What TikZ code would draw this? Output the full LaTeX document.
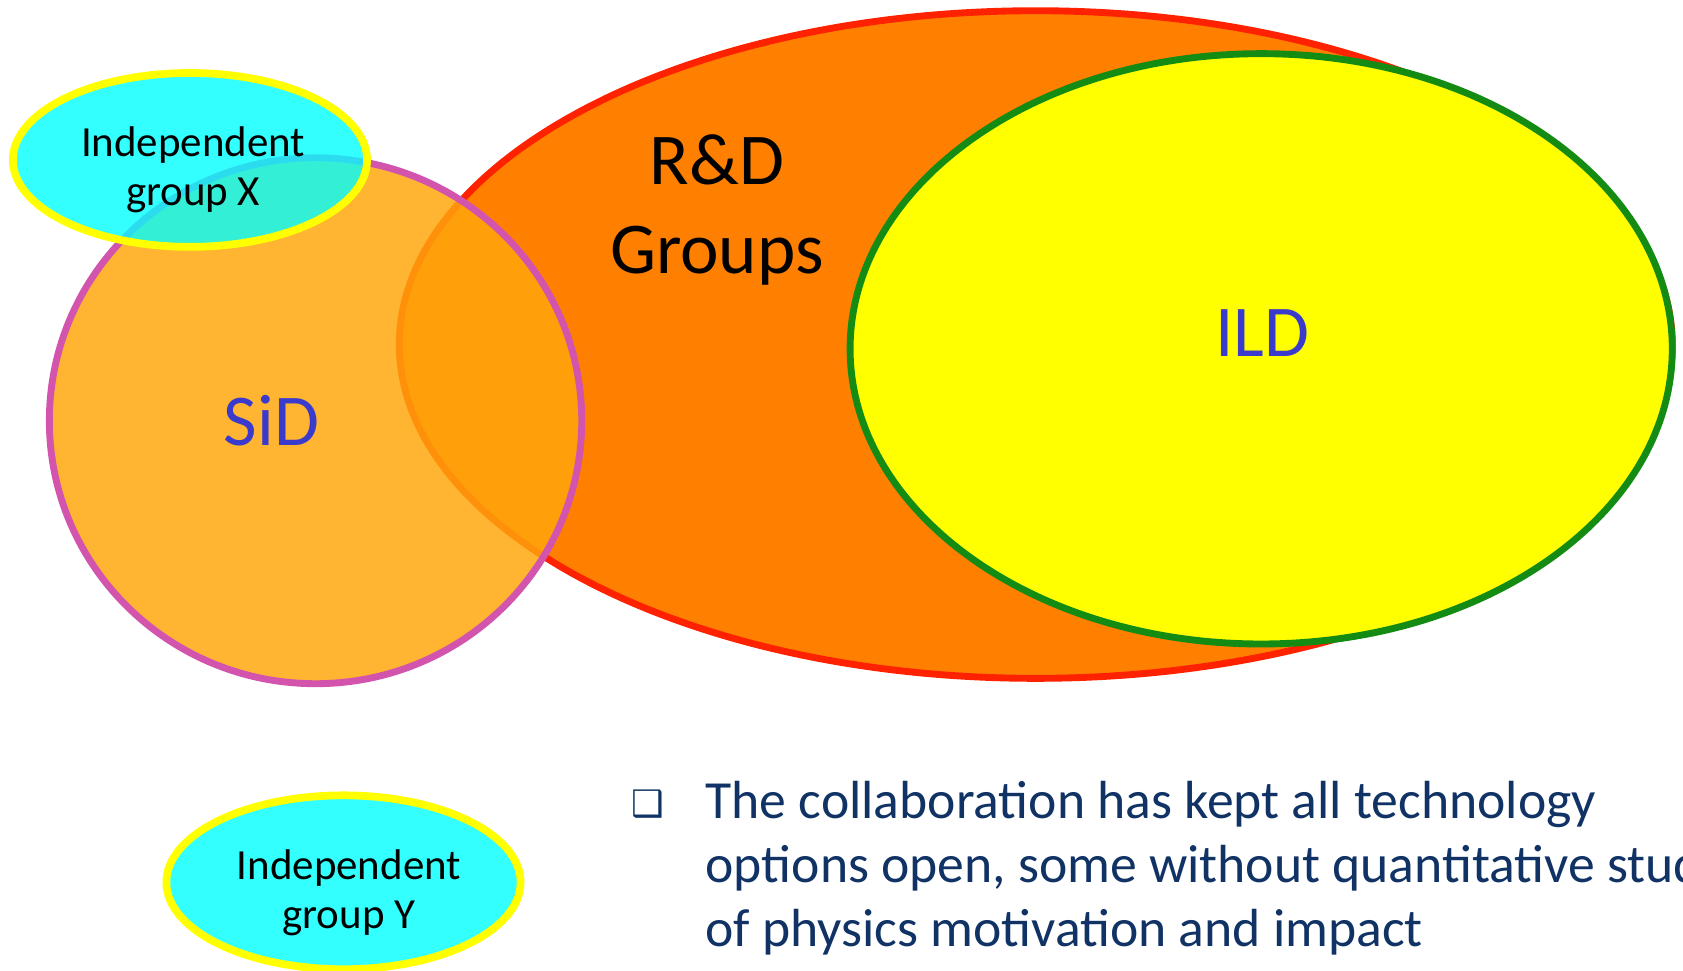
\documentclass[tikz,border=0pt]{standalone}
\usepackage{fontspec}
\setmainfont{Carlito}
\newfontfamily\symfont{DejaVu Sans}
\usetikzlibrary{shapes.geometric}
\definecolor{rdorange}{RGB}{255,127,0}
\definecolor{rdred}{RGB}{255,34,0}
\definecolor{ildyellow}{RGB}{255,255,0}
\definecolor{ildgreen}{RGB}{20,140,20}
\definecolor{sidorange}{RGB}{255,166,11}
\definecolor{sidpink}{RGB}{210,84,172}
\definecolor{grpcyan}{RGB}{0,255,255}
\definecolor{nameblue}{RGB}{58,58,205}
\definecolor{navy}{RGB}{16,50,100}
\begin{document}
\begin{tikzpicture}[x=0.5pt,y=0.5pt,set_node/.style={ellipse,draw,line width=3.2pt,inner sep=0pt},indep_node/.style={ellipse,draw=ildyellow,fill=grpcyan,fill opacity=0.8,draw opacity=1,line width=3.6pt,inner sep=0pt,minimum width=165pt,minimum height=81pt},big_text/.style={font=\fontsize{34}{41.5}\selectfont,align=center,inner sep=0pt},group_text/.style={font=\fontsize{20}{23}\selectfont,align=center,inner sep=0pt}]
		
		\useasboundingbox (0,0) rectangle (1568,904);
		\clip (0,0) rectangle (1568,904);
		
		\node[set_node,draw=rdred,fill=rdorange,minimum width=593pt,minimum height=311pt] (rnd) at (965,583) {};
		\node[set_node,draw=ildgreen,fill=ildyellow,minimum width=383pt,minimum height=275pt] (ild) at (1175,579) {};
		\node[set_node,draw=sidpink,fill=sidorange,fill opacity=0.84,draw opacity=1,minimum width=248pt,minimum height=245pt] (sid) at (294,512) {};
		\node[indep_node] (grpx) at (177,755) {};
		\node[indep_node] (grpy) at (320,82) {};
		
		\node[big_text] (rndlabel) at (668,708) {R\&D\\Groups};
		\node[big_text,text=nameblue] (sidlabel) at (253,512) {SiD};
		\node[big_text,text=nameblue] (ildlabel) at (1176,594) {ILD};
		\node[group_text] (grpxlabel) at (180,746) {Independent\\group X};
		\node[group_text] (grpylabel) at (325,72) {Independent\\group Y};
		
		\node[text=navy,font=\symfont\fontsize{17}{20}\selectfont,inner sep=0pt] (bullet) at (604,155) {❑};
		\node[text=navy,font=\fontsize{25}{30}\selectfont,align=left,anchor=north west,inner sep=0pt] (note) at (657,177) {The collaboration has kept all technology\\options open, some without quantitative studies\\of physics motivation and impact};
		\end{tikzpicture}
\end{document}
